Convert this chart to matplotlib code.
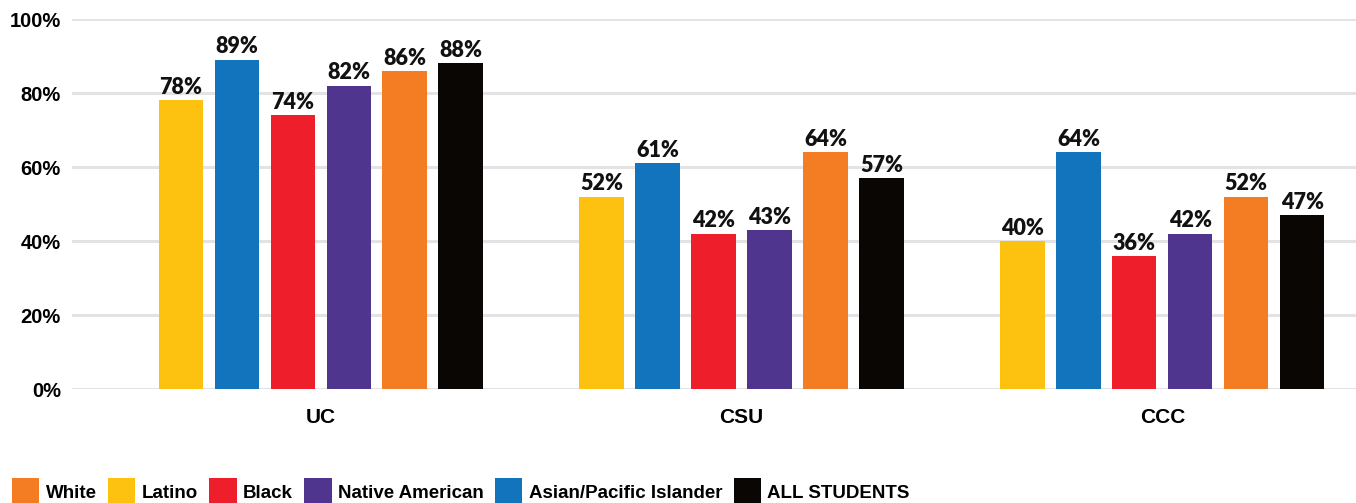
import matplotlib
matplotlib.use("Agg")
import matplotlib.pyplot as plt
import numpy as np

systems = ["UC", "CSU", "CCC"]
groups = ["Latino", "Asian/Pacific Islander", "Black", "Native American", "White", "ALL STUDENTS"]
colors = ["#fdc210", "#1174bc", "#ee1f2b", "#50358f", "#f47d23", "#0a0604"]
values = {
    "Latino": [78, 52, 40],
    "Asian/Pacific Islander": [89, 61, 64],
    "Black": [74, 42, 36],
    "Native American": [82, 43, 42],
    "White": [86, 64, 52],
    "ALL STUDENTS": [88, 57, 47],
}
legend_order = ["White", "Latino", "Black", "Native American", "Asian/Pacific Islander", "ALL STUDENTS"]

fig = plt.figure(figsize=(13.56, 5.03), dpi=100)
ax = fig.add_axes([0.053, 0.2266, 0.947, 0.7356])

x = np.arange(len(systems))
pitch = 0.133
width = 0.105
handles = {}
for i, (g, c) in enumerate(zip(groups, colors)):
    offs = (i - 2.5) * pitch
    bars = ax.bar(x + offs, values[g], width, color=c, zorder=3, label=g)
    handles[g] = bars
    for xi, v in zip(x + offs, values[g]):
        ax.text(xi, v + 0.6, f"{v}%", ha="center", va="bottom",
                fontsize=15.5, fontweight="heavy", family="Lato", color="#111111")

ax.set_ylim(0, 100)
ax.set_xlim(-0.591, 2.46)
ax.set_yticks(range(0, 101, 20))
ax.set_yticklabels([f"{t}%" for t in range(0, 101, 20)],
                   fontsize=14.5, fontweight="bold", family="Liberation Sans")
ax.set_xticks(x)
ax.set_xticklabels(systems, fontsize=15, fontweight="bold", family="Liberation Sans")
ax.tick_params(axis="both", length=0)
ax.tick_params(axis="x", pad=14)
ax.tick_params(axis="y", pad=8)
ax.grid(axis="y", color="#e3e3e5", linewidth=2.2, zorder=0)
for s in ax.spines.values():
    s.set_visible(False)

fig.legend([handles[g] for g in legend_order], legend_order, loc="lower left",
           bbox_to_anchor=(0.009, -0.005), ncol=6, frameon=False,
           handlelength=1.45, handleheight=1.85, handletextpad=0.35,
           columnspacing=0.6, borderpad=0.0, borderaxespad=0.0,
           prop={"family": "Liberation Sans", "weight": "bold", "size": 13.5})

fig.savefig("out.png", dpi=100)
